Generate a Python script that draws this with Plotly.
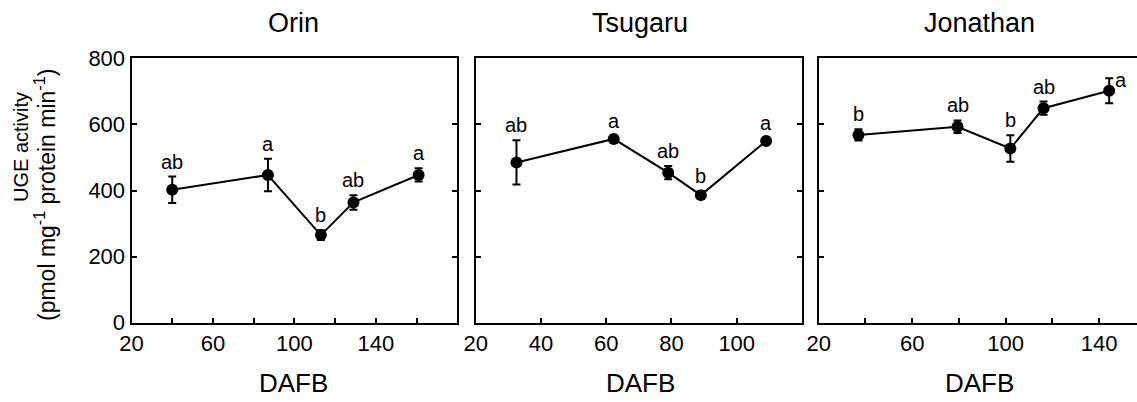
import plotly.graph_objects as go

W, H = 1137, 402

# ---- data ----
orin_dafb = [40, 87, 113, 129, 161]
orin_uge = [402, 447, 265, 364, 447]
orin_err = [40, 49, 15, 22, 20]
orin_lab = ["ab", "a", "b", "ab", "a"]

tsu_dafb = [32.5, 62.3, 79, 89, 109]
tsu_uge = [485, 556, 454, 386, 550]
tsu_err = [67, 8, 20, 12, 8]
tsu_lab = ["ab", "a", "ab", "b", "a"]

jon_dafb = [37, 79.4, 102, 116.2, 144.3]
jon_uge = [568, 593, 527, 649, 702]
jon_err = [17, 19, 40, 20, 38]
jon_lab = ["b", "ab", "b", "ab", "a"]

titles = ["Orin", "Tsugaru", "Jonathan"]
y_ticks = [0, 200, 400, 600, 800]
orin_xt = [20, 60, 100, 140]
orin_xminor = [40, 80, 120, 160]
tsu_xt = [20, 40, 60, 80, 100]
tsu_xminor = []
jon_xt = [20, 60, 100, 140]
jon_xminor = [40, 80, 120]

FONT = "Liberation Sans, Arial, sans-serif"

panels = [
    dict(x=orin_dafb, y=orin_uge, e=orin_err, lab=orin_lab, xt=orin_xt, xm=orin_xminor,
         rng=[20, 180], px=(131.5, 457.3), tc=293),
    dict(x=tsu_dafb, y=tsu_uge, e=tsu_err, lab=tsu_lab, xt=tsu_xt, xm=tsu_xminor,
         rng=[20, 120], px=(475.7, 802.0), tc=640),
    dict(x=jon_dafb, y=jon_uge, e=jon_err, lab=jon_lab, xt=jon_xt, xm=jon_xminor,
         rng=[20, 156.2], px=(818.7, 1137.0), tc=979),
]

ytop, ybot = 58.3, 322.7
ydom = [1 - ybot / H, 1 - ytop / H]

fig = go.Figure()
annotations = []
for i, p in enumerate(panels):
    n = "" if i == 0 else str(i + 1)
    fig.add_trace(go.Scatter(
        x=p["x"], y=p["y"], mode="lines+markers",
        line=dict(color="black", width=2),
        marker=dict(color="black", size=12),
        error_y=dict(type="data", array=p["e"], color="black", thickness=2, width=4),
        xaxis="x" + n, yaxis="y" + n, showlegend=False, cliponaxis=False,
    ))
    xd = [p["px"][0] / W, min(p["px"][1] / W, 1.0)]
    last = i == 2
    xa = dict(
        domain=xd, range=p["rng"], anchor="y" + n, automargin=False,
        showline=True, linecolor="black", linewidth=2, mirror=True,
        ticks="inside", ticklen=5, tickwidth=1.5, tickcolor="black",
        tickmode="array", tickvals=p["xt"], ticktext=[str(v) for v in p["xt"]],
        showgrid=False, zeroline=False,
        tickfont=dict(family=FONT, size=22, color="black"),
    )
    if p["xm"]:
        xa["minor"] = dict(tickmode="array", tickvals=p["xm"], ticks="inside",
                           ticklen=5, tickwidth=1.5, tickcolor="black", showgrid=False)
    fig.update_layout(**{
        "xaxis" + n: xa,
        "yaxis" + n: dict(
            domain=ydom, range=[0, 800], anchor="x" + n, automargin=False,
            showline=True, linecolor="black", linewidth=2,
            mirror=False if last else "ticks",
            ticks="inside", ticklen=5, tickwidth=1.5, tickcolor="black",
            tickvals=y_ticks, showticklabels=(i == 0), showgrid=False, zeroline=False,
            tickfont=dict(family=FONT, size=22, color="black"),
        ),
    })
    # panel title
    annotations.append(dict(
        text=titles[i], x=p["tc"] / W, y=1 - 23 / H, xref="paper", yref="paper",
        showarrow=False, font=dict(family=FONT, size=27, color="black"),
        xanchor="center", yanchor="middle",
    ))
    # x axis title
    annotations.append(dict(
        text="DAFB", x=p["tc"] / W, y=1 - 383 / H, xref="paper", yref="paper",
        showarrow=False, font=dict(family=FONT, size=26, color="black"),
        xanchor="center", yanchor="middle",
    ))
    # significance letters
    for j, (xv, yv, ev, lb) in enumerate(zip(p["x"], p["y"], p["e"], p["lab"])):
        if last and j == len(p["x"]) - 1:
            annotations.append(dict(
                text=lb, x=xv, y=yv + ev, xref="x" + n, yref="y" + n, showarrow=False,
                xanchor="left", yanchor="middle", xshift=4, yshift=-2,
                font=dict(family=FONT, size=20, color="black")))
        else:
            annotations.append(dict(
                text=lb, x=xv, y=yv + ev, xref="x" + n, yref="y" + n, showarrow=False,
                xanchor="center", yanchor="bottom", yshift=2,
                font=dict(family=FONT, size=20, color="black")))

# y axis title (two lines)
annotations.append(dict(
    text="UGE activity", x=21 / W, y=1 - 147 / H, xref="paper", yref="paper",
    showarrow=False, textangle=-90, xanchor="center", yanchor="middle",
    font=dict(family=FONT, size=20, color="black")))
annotations.append(dict(
    text="(pmol mg<sup>-1</sup> protein min<sup>-1</sup>)", x=45 / W, y=1 - 195 / H,
    xref="paper", yref="paper", showarrow=False, textangle=-90,
    xanchor="center", yanchor="middle",
    font=dict(family=FONT, size=23, color="black")))

fig.update_layout(annotations=annotations)
fig.update_layout(
    width=W, height=H, margin=dict(l=0, r=0, t=0, b=0, autoexpand=False),
    paper_bgcolor="white", plot_bgcolor="white",
)

fig.write_html("out.html")
